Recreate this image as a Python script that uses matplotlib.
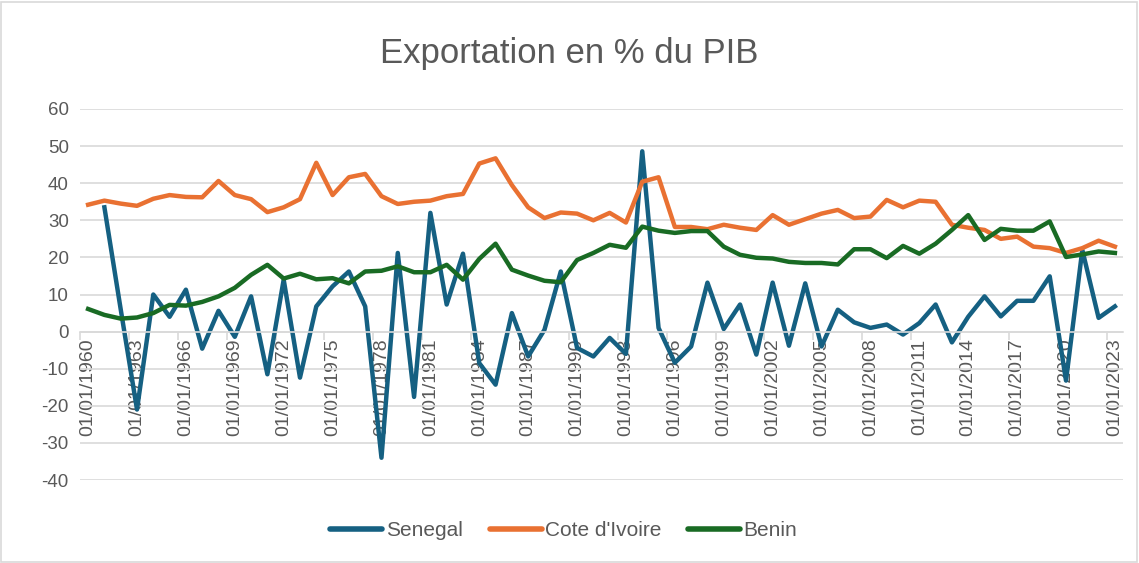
import numpy as np
import matplotlib
matplotlib.use("Agg")
import matplotlib.pyplot as plt
from matplotlib.patches import Rectangle

plt.rcParams['font.family'] = ['Liberation Sans', 'DejaVu Sans']
plt.rcParams['axes.unicode_minus'] = False

# données (1960-2023)
years = list(range(1960, 2024))

senegal = [np.nan, 33.5, 6, -21, 10, 4, 11.3, -4.6, 5.6, -1.4,
           9.5, -11.5, 14, -12.4, 6.8, 12.2, 16.2, 6.8, -34, 21.2,
           -17.6, 32, 7.3, 21, -8.5, -14.3, 5, -6.7, 0.5, 16.2,
           -4.4, -6.7, -1.7, -6, 48.6, 1, -8.4, -4, 13.2, 0.7,
           7.3, -6.2, 13.2, -3.8, 13, -4, 5.9, 2.5, 1, 1.9,
           -0.8, 2.3, 7.3, -2.9, 4, 9.5, 4.1, 8.3, 8.3, 14.9,
           -13.2, 22, 3.7, 6.8]

cote_ivoire = [34.2, 35.3, 34.5, 33.9, 35.8, 36.8, 36.3, 36.2, 40.6, 36.8,
               35.7, 32.2, 33.5, 35.7, 45.5, 36.8, 41.6, 42.5, 36.5, 34.4,
               35, 35.3, 36.5, 37.1, 45.3, 46.7, 39.5, 33.5, 30.6, 32.1,
               31.8, 30, 32, 29.4, 40.4, 41.6, 28.2, 28.2, 27.6, 28.8,
               28, 27.4, 31.4, 28.8, 30.3, 31.8, 32.8, 30.6, 31, 35.5,
               33.5, 35.3, 35, 28.8, 28, 27.4, 25, 25.6, 22.9, 22.5,
               21.2, 22.5, 24.5, 22.9]

benin = [6.1, 4.5, 3.5, 3.8, 5, 7.2, 7, 8, 9.5, 11.8,
         15.3, 18, 14.3, 15.6, 14.1, 14.4, 13, 16.2, 16.4, 17.6,
         16, 16, 18, 14, 19.6, 23.7, 16.7, 15.1, 13.7, 13.3,
         19.3, 21.2, 23.4, 22.6, 28.3, 27.2, 26.6, 27.1, 27.1, 22.9,
         20.7, 19.9, 19.7, 18.8, 18.5, 18.5, 18.1, 22.2, 22.2, 19.8,
         23.1, 21, 23.7, 27.4, 31.4, 24.7, 27.7, 27.2, 27.2, 29.7,
         20.1, 20.8, 21.6, 21.2]

series = [("Senegal", senegal, "#156082"),
          ("Cote d'Ivoire", cote_ivoire, "#E97132"),
          ("Benin", benin, "#196B24")]

grey_txt = "#595959"
grey_line = "#D9D9D9"

fig = plt.figure(figsize=(11.39, 5.63), dpi=100)
ax = fig.add_axes([0.0702, 0.1474, 0.9158, 0.659])

x = np.arange(len(years))
for name, vals, col in series:
    ax.plot(x, vals, color=col, lw=3.2, label=name)

ax.set_xlim(-0.5, len(years) - 0.5)
ax.set_ylim(-40, 60)
ax.set_yticks(range(-40, 61, 10))
ax.yaxis.grid(True, color=grey_line, lw=1.2)
ax.set_axisbelow(True)

lab_idx = x[::3]
ax.set_xticks(lab_idx)
ax.set_xticklabels([f"01/01/{years[i]}" for i in lab_idx])
ax.set_xticks(lab_idx - 0.5, minor=True)
ax.tick_params(axis='x', which='major', length=0, pad=5, labelsize=14,
               labelcolor=grey_txt, labelrotation=90)
ax.tick_params(axis='x', which='minor', length=6, width=1.2, color=grey_line)
ax.tick_params(axis='y', length=0, pad=8, labelsize=13.5, labelcolor=grey_txt)

for s in ['top', 'right', 'left']:
    ax.spines[s].set_visible(False)
ax.spines['bottom'].set_position(('data', 0))
ax.spines['bottom'].set_color(grey_line)
ax.spines['bottom'].set_linewidth(1.2)

fig.text(0.5, 0.905, "Exportation en % du PIB", ha='center', va='center',
         fontsize=25, color=grey_txt)

leg = fig.legend(loc='center', bbox_to_anchor=(0.495, 0.057), ncol=3, frameon=False,
                 fontsize=15, handlelength=2.5, handletextpad=0.15, columnspacing=1.3)
for t in leg.get_texts():
    t.set_color(grey_txt)
for h in leg.get_lines():
    h.set_solid_capstyle('round')
    h.set_linewidth(4)

fig.patches.append(Rectangle((0.001, 0.002), 0.997, 0.995, transform=fig.transFigure,
                             fill=False, edgecolor=grey_line, lw=1.2))

fig.savefig("out.png", dpi=100, facecolor='white')
